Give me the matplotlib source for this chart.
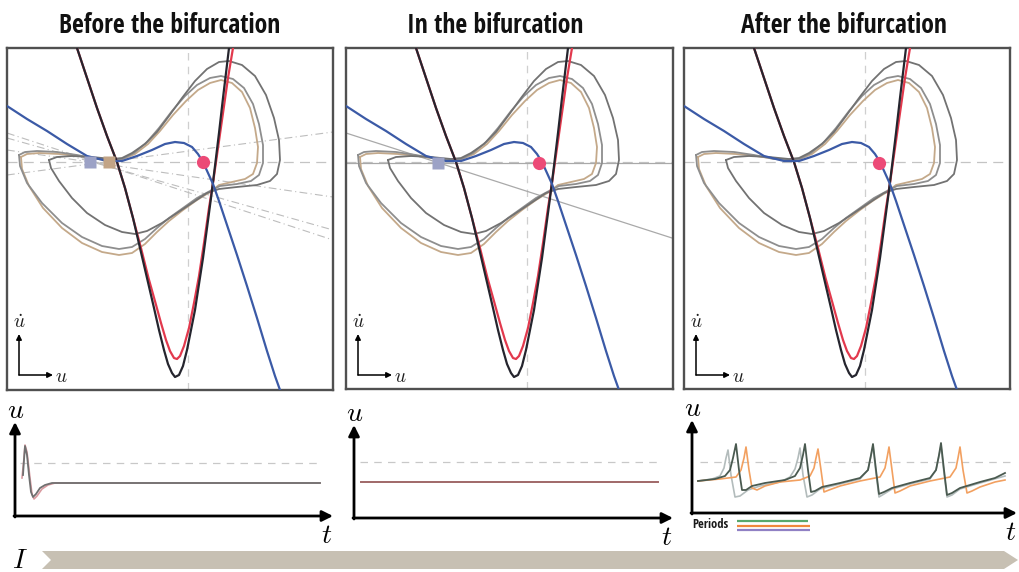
import matplotlib
matplotlib.use('Agg')
import matplotlib.pyplot as plt
from matplotlib.patches import Polygon

plt.rcParams['mathtext.fontset'] = 'cm'

# ---------------- data (panel-local units; u to the right, u-dot downward on screen) -------------
titles = ['Before the bifurcation', 'In the bifurcation', 'After the bifurcation']

black_curve = [(70, 0), (80, 30), (90, 60), (100, 88), (110, 114), (118, 140), (126, 170), (133, 200),
               (140, 230), (147, 260), (152, 282), (157, 302), (161, 316), (165, 325), (168, 329),
               (172, 327), (176, 318), (180, 302), (184, 282), (188, 262), (192, 236), (196, 210),
               (200, 180), (204, 150), (208, 118), (212, 85), (216, 50), (219, 25), (222, 0)]

red_curve = [(70, 0), (80, 30), (90, 60), (100, 88), (110, 114), (118, 140), (126, 170), (134, 200),
             (141.5, 230), (148.5, 255), (154, 275), (159, 292), (163, 303), (167, 310), (170, 311),
             (173, 308), (177, 298), (182, 280), (187, 255), (192, 228), (197, 195), (202, 160),
             (206, 135), (211, 100), (216, 65), (221, 30), (226, 0)]

blue_curve = [(0, 58), (20, 71), (40, 83), (60, 96), (80, 108), (100, 113), (115, 113), (130, 108),
              (145, 102), (158, 96), (168, 94), (177, 95), (185, 99), (191, 106), (196, 114),
              (201, 125), (206, 136), (212, 153), (220, 177), (230, 207), (240, 238), (250, 270),
              (260, 303), (268, 328), (273, 342)]

loop_a = [(42, 112), (50, 109), (65, 108), (85, 109), (105, 111), (115, 110), (125, 105), (138, 96),
          (150, 84), (162, 68), (175, 50), (188, 33), (200, 21), (212, 14), (222, 13), (235, 17),
          (248, 28), (259, 47), (267, 70), (272, 92), (273, 112), (270, 126), (263, 133), (250, 137),
          (230, 139), (212, 141), (200, 145), (185, 155), (170, 165), (155, 175), (140, 183),
          (128, 186), (115, 184), (98, 177), (80, 165), (65, 150), (52, 133), (44, 120), (42, 112)]

loop_b = [(12, 107), (18, 104), (30, 103), (50, 104), (70, 107), (90, 111), (105, 112), (115, 111),
          (127, 105), (140, 94), (152, 80), (165, 63), (178, 48), (190, 37), (203, 30), (214, 28),
          (226, 31), (237, 40), (246, 56), (252, 76), (256, 97), (256, 115), (252, 127), (244, 133),
          (230, 136), (213, 138), (203, 143), (190, 150), (176, 160), (162, 170), (150, 180),
          (138, 191), (125, 199), (112, 201), (95, 198), (75, 189), (55, 175), (35, 155), (20, 135),
          (13, 118), (12, 107)]

loop_c = [(14, 109), (20, 106), (32, 105), (52, 106), (72, 108), (92, 111), (106, 112), (116, 111),
          (128, 106), (141, 96), (153, 83), (166, 67), (179, 53), (191, 42), (203, 35), (214, 32),
          (225, 35), (235, 44), (243, 60), (248, 80), (251, 99), (250, 115), (246, 126), (238, 131),
          (225, 134), (212, 137), (203, 144), (190, 152), (176, 162), (162, 173), (150, 184),
          (138, 196), (125, 205), (112, 207), (95, 204), (75, 195), (55, 180), (36, 160), (22, 138),
          (15, 121), (14, 109)]

node_u = [196, 193, 195]           # red dot per panel
node_v = [114, 115, 115]
saddles = [[(83, 114, '#9ca2c6'), (102, 114, '#c2a486')], [(92, 115, '#9ca2c6')], []]
guide_lines = [[((0, 127), (326, 84)), ((0, 85), (326, 192)), ((0, 90), (326, 182)), ((0, 102), (326, 149))],
               [((0, 85), (326, 190)), ((0, 115), (326, 115))],
               []]
u_rest, udot_zero = 181, 114

# time series (t to the right, u upward)
ts1_gray = [(8, 41), (9, 56), (10, 70), (12, 61), (14, 41), (16, 24), (18, 19), (21, 22), (25, 28),
            (30, 31), (37, 33), (50, 33), (305, 33)]
ts1_pink = [(7, 38), (9, 58), (10, 71), (12, 64), (15, 38), (17, 22), (19, 17), (22, 20), (27, 27),
            (33, 31), (40, 33), (305, 33)]
ts2_flat = [(7, 36), (304, 36)]
ts3_dark = [(6, 32), (23, 34), (33, 37), (38, 43), (41, 55), (44, 69), (47, 43), (50, 23), (54, 23),
            (60, 27), (73, 30), (93, 33), (103, 37), (108, 45), (111, 58), (113, 69), (116, 43),
            (119, 21), (123, 22), (130, 26), (148, 30), (168, 35), (176, 43), (179, 58), (181, 69),
            (184, 43), (187, 19), (192, 21), (200, 25), (218, 30), (238, 35), (244, 43), (247, 58),
            (249, 70), (252, 43), (255, 18), (260, 20), (268, 25), (288, 31), (303, 35), (313, 40)]
ts3_orange = [(6, 32), (28, 34), (44, 36), (49, 43), (52, 55), (54, 66), (57, 43), (60, 25), (65, 23),
              (73, 27), (88, 31), (108, 33), (118, 37), (122, 45), (124, 55), (126, 64), (129, 43),
              (132, 21), (137, 23), (148, 27), (168, 32), (188, 36), (193, 45), (195, 55), (197, 66),
              (200, 43), (203, 20), (208, 22), (218, 27), (238, 32), (258, 36), (264, 45), (266, 55),
              (268, 66), (271, 43), (275, 20), (280, 22), (288, 26), (303, 31), (313, 33)]
ts3_light = [(6, 32), (20, 34), (28, 37), (32, 45), (34, 55), (36, 63), (39, 38), (43, 16), (48, 17),
             (56, 23), (68, 27), (88, 31), (98, 36), (103, 44), (106, 55), (108, 65), (111, 38),
             (115, 16), (120, 18), (128, 24), (148, 29), (168, 34), (176, 43), (179, 57), (181, 67),
             (184, 40), (187, 16), (192, 19), (200, 24), (218, 29), (238, 34), (244, 43), (247, 57),
             (249, 67), (252, 40), (255, 16), (260, 18), (268, 24), (288, 30), (313, 37)]
threshold_u = [53, 56, 51]
period_colors = ['#58a86c', '#f0883c', '#9080c4']
period_len = [71, 73, 73]

# ---------------- figure -------------
W, H = 1020, 572
fig = plt.figure(figsize=(W / 100, H / 100), dpi=100)


def px_axes(left, top, width, height, xlim, ylim, z=1):
    ax = fig.add_axes([left / W, 1 - (top + height) / H, width / W, height / H])
    ax.set_xlim(*xlim)
    ax.set_ylim(*ylim)
    ax.set_zorder(z)
    ax.patch.set_alpha(0)
    return ax


def xy(pts):
    return [p[0] for p in pts], [p[1] for p in pts]


bg = px_axes(0, 0, W, H, (0, W), (H, 0), z=0)
bg.axis('off')

title_font = ['Open Sans Condensed', 'IBM Plex Sans Condensed', 'DejaVu Sans']
title_x = [170, 495, 844]
for tx, tt in zip(title_x, titles):
    bg.text(tx, 33, tt, ha='center', va='baseline', fontsize=18.5, fontweight='bold',
            family=title_font, color='#111111')

# phase portraits
boxes = [(7, 48, 326, 342), (346, 48, 327, 341), (684, 48, 326, 341)]
for i, (l, t, w, h) in enumerate(boxes):
    ax = px_axes(l, t, w, h, (0, w), (h, 0), z=2)
    ax.set_xticks([])
    ax.set_yticks([])
    for s in ax.spines.values():
        s.set_color('#505050')
        s.set_linewidth(1.7)
    kw = dict(solid_capstyle='round', solid_joinstyle='round')
    ax.axvline(u_rest, color='#cfcfcf', lw=0.9, ls=(0, (6, 5)), zorder=1)
    ax.axhline(udot_zero, color='#c4c4c4', lw=0.9, ls=(0, (8, 5)), zorder=1)
    for (p0, p1) in guide_lines[i]:
        ax.plot([p0[0], p1[0]], [p0[1], p1[1]], color='#a9a9a9' if i == 1 else '#bdbdbd',
                lw=0.9 if i == 1 else 0.8, ls='-' if i == 1 else (0, (7, 3, 1, 3)), zorder=1)
    ax.plot(*xy(loop_c), color='#c4a98a', lw=1.3, zorder=2, **kw)
    ax.plot(*xy(loop_b), color='#8e8e8e', lw=1.3, zorder=2, **kw)
    ax.plot(*xy(loop_a), color='#727272', lw=1.3, zorder=2, **kw)
    ax.plot(*xy(red_curve), color='#e2394d', lw=1.6, zorder=3, **kw)
    ax.plot(*xy(black_curve), color='#25252e', lw=1.6, zorder=4, **kw)
    ax.plot(*xy(blue_curve), color='#3b5aa6', lw=1.6, zorder=4, **kw)
    for (su, sv, sc) in saddles[i]:
        ax.plot(su, sv, marker='s', ms=8.5, color=sc, mec='none', zorder=6)
    ax.plot(node_u[i], node_v[i], marker='o', ms=9.5, color='#ec4a77', mec='none', zorder=6)
    # small axis indicator
    ax.annotate('', xy=(12, 286), xytext=(12, 327),
                arrowprops=dict(arrowstyle='-|>', color='black', lw=1.1, mutation_scale=8,
                                shrinkA=0, shrinkB=0), zorder=7)
    ax.annotate('', xy=(46, 327), xytext=(12, 327),
                arrowprops=dict(arrowstyle='-|>', color='black', lw=1.1, mutation_scale=8,
                                shrinkA=0, shrinkB=0), zorder=7)
    ax.text(12, 275, r'$\dot{u}$', ha='center', va='center', fontsize=14, color='#202020')
    ax.text(48, 328, r'$u$', ha='left', va='center', fontsize=14, color='#202020')

# time series
origins = [(15, 516), (354, 518), (692, 513)]
tips = [(318, 94), (319, 93), (325, 93)]
for i, (ox, oy) in enumerate(origins):
    ax = px_axes(ox - 25, oy - 125, 360, 170, (-25, 335), (-45, 125), z=2)
    ax.axis('off')
    tx, ty = tips[i]
    ax.annotate('', xy=(0, ty), xytext=(0, -1),
                arrowprops=dict(arrowstyle='-|>', color='black', lw=2.0, mutation_scale=16,
                                shrinkA=0, shrinkB=0))
    ax.annotate('', xy=(tx, 0), xytext=(-1, 0),
                arrowprops=dict(arrowstyle='-|>', color='black', lw=2.0, mutation_scale=16,
                                shrinkA=0, shrinkB=0))
    ax.text(1, ty + 12, r'$u$', ha='center', va='center', fontsize=20)
    ax.text(tx - 6, -19, r'$t$', ha='center', va='center', fontsize=20)
    if i == 0:
        ax.plot([5, 305], [threshold_u[i]] * 2, color='#c8c8c8', lw=0.9, ls=(0, (6, 5)))
        ax.plot(*xy(ts1_pink), color='#d99aa0', lw=1.2)
        ax.plot(*xy(ts1_gray), color='#707070', lw=1.3)
    elif i == 1:
        ax.plot([6, 306], [threshold_u[i]] * 2, color='#c8c8c8', lw=0.9, ls=(0, (6, 5)))
        ax.plot(*xy(ts2_flat), color='#a06868', lw=1.4)
    else:
        ax.plot([8, 318], [threshold_u[i]] * 2, color='#c8c8c8', lw=0.9, ls=(0, (6, 5)))
        ax.plot(*xy(ts3_light), color='#b3bcbc', lw=1.2)
        ax.plot(*xy(ts3_orange), color='#f2a060', lw=1.2)
        ax.plot(*xy(ts3_dark), color='#4a5a50', lw=1.3)
        ax.text(0, -12, 'Periods', ha='left', va='center', fontsize=9, fontweight='bold',
                family=title_font, color='#1a1a1a')
        for k, (pc, pl) in enumerate(zip(period_colors, period_len)):
            yy = -8 - 4.5 * k
            ax.plot([45, 45 + pl], [yy, yy], color=pc, lw=1.6, solid_capstyle='butt')

# the I arrow
band = Polygon([(42, 551), (1004, 551), (1018, 560), (1004, 569), (42, 569), (51, 560)],
               closed=True, facecolor='#c7c0b3', edgecolor='none')
bg.add_patch(band)
bg.text(20, 560, r'$I$', ha='center', va='center', fontsize=20)

fig.savefig('out.png', dpi=100)
